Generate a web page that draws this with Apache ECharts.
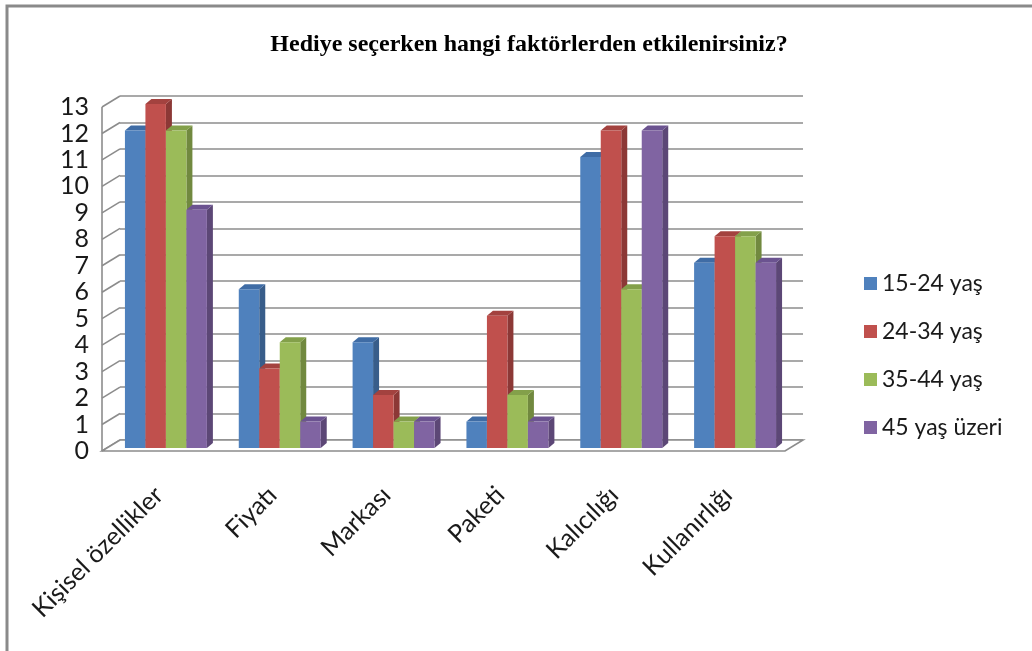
<!DOCTYPE html>
<html>
<head>
<meta charset="utf-8">
<script src="https://cdn.jsdelivr.net/npm/echarts@6/dist/echarts.min.js"></script>
<style>
  html, body { margin: 0; padding: 0; background: #fff; }
  #chart { width: 1032px; height: 651px; }
</style>
</head>
<body>
<div id="chart"></div>
<script>
// Survey answers per age group
const categories = ['Kişisel özellikler', 'Fiyatı', 'Markası', 'Paketi', 'Kalıcılığı', 'Kullanırlığı'];
const seriesNames = ['15-24 yaş', '24-34 yaş', '35-44 yaş', '45 yaş üzeri'];
const age15_24 = [12, 6, 4, 1, 11, 7];
const age24_34 = [13, 3, 2, 5, 12, 8];
const age35_44 = [12, 4, 1, 2, 6, 8];
const age45plus = [9, 1, 1, 1, 12, 7];
const yTicks = [0, 1, 2, 3, 4, 5, 6, 7, 8, 9, 10, 11, 12, 13];
const titleText = 'Hediye seçerken hangi faktörlerden etkilenirsiniz?';

const seriesValues = [age15_24, age24_34, age35_44, age45plus];

// face colours: front, side, top
const palette = [
  { front: '#4F81BD', side: '#385D8A', top: '#3F6CA5' },
  { front: '#C0504D', side: '#8C3836', top: '#A3423F' },
  { front: '#9BBB59', side: '#71893F', top: '#83A04A' },
  { front: '#8064A2', side: '#5C4776', top: '#6B5390' }
];

// 3D projection offsets
const FRONT_DX = -18, FRONT_DY = 11;   // front edge of walls relative to back wall
const BAR_DX = -11, BAR_DY = 8;        // front face of bars relative to back wall
const DEPTH_DX = 6, DEPTH_DY = -5;     // bar depth
const BAR_RATIO = 0.18;                // bar width as share of category band
const GRID_COLOR = '#8c8c8c';

const chart = echarts.init(document.getElementById('chart'));

function renderBar(seriesIdx) {
  return function (params, api) {
    const cat = api.value(0);
    const val = api.value(1);
    const base = api.coord([cat, 0]);
    const top = api.coord([cat, val]);
    const band = api.size([1, 0])[0];
    const w = band * BAR_RATIO;
    const x0 = base[0] - 2 * w + BAR_DX + seriesIdx * w;
    const x1 = x0 + w;
    const yb = base[1] + BAR_DY;
    const yt = top[1] + BAR_DY;
    const c = palette[seriesIdx];
    return {
      type: 'group',
      children: [
        {
          type: 'polygon',
          shape: { points: [[x1, yt], [x1 + DEPTH_DX, yt + DEPTH_DY], [x1 + DEPTH_DX, yb + DEPTH_DY], [x1, yb]] },
          style: { fill: c.side }
        },
        {
          type: 'polygon',
          shape: { points: [[x0, yt], [x0 + DEPTH_DX, yt + DEPTH_DY], [x1 + DEPTH_DX, yt + DEPTH_DY], [x1, yt]] },
          style: { fill: c.top }
        },
        {
          type: 'rect',
          shape: { x: x0, y: yt, width: w, height: yb - yt },
          style: { fill: c.front }
        }
      ]
    };
  };
}

// left wall diagonals and floor, one item per y tick
function renderWalls(params, api) {
  const v = api.value(0);
  const cs = params.coordSys;
  const y = api.coord([0, v])[1];
  const bx = cs.x;
  const children = [
    {
      type: 'line',
      shape: { x1: bx + FRONT_DX, y1: y + FRONT_DY, x2: bx, y2: y },
      style: { stroke: GRID_COLOR, lineWidth: 1.6 }
    }
  ];
  if (v === 0) {
    const yTop = api.coord([0, yTicks[yTicks.length - 1]])[1];
    const rx = cs.x + cs.width;
    children.push({
      type: 'polygon',
      shape: { points: [[bx, y], [rx, y], [rx + FRONT_DX, y + FRONT_DY], [bx + FRONT_DX, y + FRONT_DY]] },
      style: { fill: '#fff', stroke: GRID_COLOR, lineWidth: 1.6 }
    });
    children.push({
      type: 'line',
      shape: { x1: bx + FRONT_DX, y1: yTop + FRONT_DY, x2: bx + FRONT_DX, y2: y + FRONT_DY },
      style: { stroke: GRID_COLOR, lineWidth: 1.6 }
    });
  }
  return { type: 'group', children: children };
}

const series = [
  {
    type: 'custom',
    name: 'walls',
    xAxisIndex: 0,
    yAxisIndex: 0,
    renderItem: renderWalls,
    data: yTicks.map(t => [t]),
    encode: { x: -1, y: 0 },
    silent: true,
    z: 1
  }
];
seriesValues.forEach((vals, i) => {
  series.push({
    type: 'custom',
    name: seriesNames[i],
    xAxisIndex: 0,
    yAxisIndex: 0,
    renderItem: renderBar(i),
    itemStyle: { color: palette[i].front },
    data: vals.map((v, j) => [j, v]),
    encode: { x: 0, y: 1 },
    z: 2
  });
});

chart.setOption({
  backgroundColor: '#fff',
  animation: false,
  title: {
    text: titleText,
    left: 524,
    textAlign: 'center',
    top: 28,
    textStyle: {
      fontFamily: 'Liberation Serif',
      fontWeight: 'bold',
      fontSize: 24,
      color: '#000'
    }
  },
  legend: {
    orient: 'vertical',
    left: 859,
    top: 267,
    itemWidth: 13,
    itemHeight: 13,
    itemGap: 25,
    itemTextGap: 10,
    icon: 'rect',
    data: seriesNames,
    textStyle: { fontFamily: 'Lato', fontSize: 23, color: '#1a1a1a' }
  },
  grid: [
    // back wall
    { left: 120, right: 229, top: 96, bottom: 211 },
    // front plane carrying the axis labels
    { left: 102, right: 247, top: 107, bottom: 200 }
  ],
  xAxis: [
    {
      type: 'category', gridIndex: 0, data: categories,
      axisLine: { show: false }, axisTick: { show: false }, axisLabel: { show: false }
    },
    {
      type: 'category', gridIndex: 1, data: categories,
      axisLine: { show: false }, axisTick: { show: false },
      axisLabel: {
        rotate: 45, margin: 40, interval: 0,
        fontFamily: 'Lato', fontSize: 25, color: '#1a1a1a'
      }
    }
  ],
  yAxis: [
    {
      type: 'value', gridIndex: 0, min: 0, max: 13, interval: 1,
      axisLine: { show: false }, axisTick: { show: false }, axisLabel: { show: false },
      splitLine: { show: true, lineStyle: { color: GRID_COLOR, width: 1.6 } }
    },
    {
      type: 'value', gridIndex: 1, min: 0, max: 13, interval: 1,
      axisLine: { show: false }, axisTick: { show: false }, splitLine: { show: false },
      axisLabel: { margin: 13, fontFamily: 'Lato', fontSize: 25, color: '#1a1a1a' }
    }
  ],
  series: series,
  graphic: [
    {
      // outer chart frame (top and left edges)
      type: 'polyline',
      shape: { points: [[7, 651], [7, 6], [1032, 6]] },
      style: { stroke: '#8a8a8a', lineWidth: 3, fill: null },
      silent: true
    }
  ]
});
</script>
</body>
</html>
